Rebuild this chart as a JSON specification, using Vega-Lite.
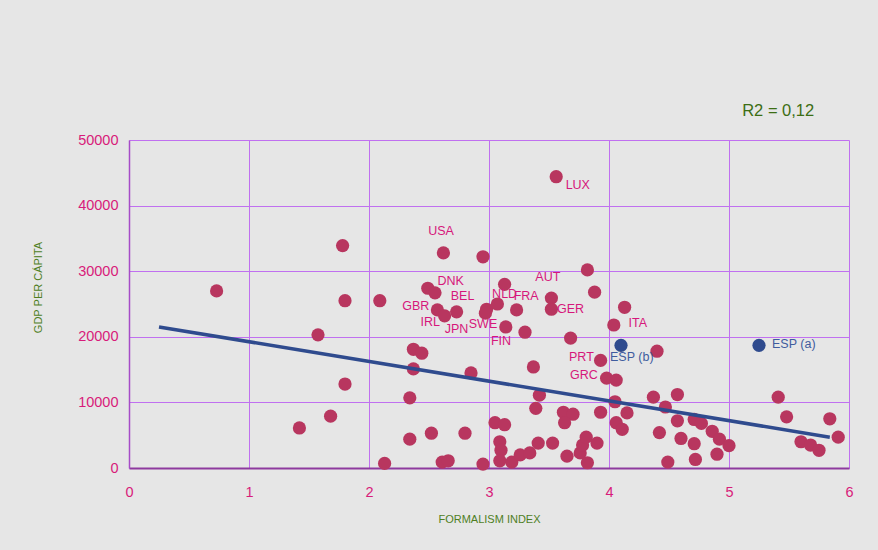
{
  "$schema": "https://vega.github.io/schema/vega-lite/v6.json",
  "width": 720,
  "height": 328,
  "autosize": {"type": "none"},
  "padding": {"left": 129, "top": 140, "right": 29, "bottom": 82},
  "background": "#E6E6E6",
  "config": {"view": {"stroke": null}, "font": "Liberation Sans"},
  "resolve": {"scale": {"color": "independent"}},
  "datasets": {
    "points": [
      {"fi": 0.73, "gdp": 27000, "grp": "other"},
      {"fi": 1.42, "gdp": 6100, "grp": "other"},
      {"fi": 1.575, "gdp": 20300, "grp": "other"},
      {"fi": 1.68, "gdp": 7900, "grp": "other"},
      {"fi": 1.78, "gdp": 33900, "grp": "other"},
      {"fi": 1.8, "gdp": 25500, "grp": "other"},
      {"fi": 1.8, "gdp": 12800, "grp": "other"},
      {"fi": 2.09, "gdp": 25500, "grp": "other"},
      {"fi": 2.13, "gdp": 700, "grp": "other"},
      {"fi": 2.34, "gdp": 10700, "grp": "other"},
      {"fi": 2.34, "gdp": 4400, "grp": "other"},
      {"fi": 2.37, "gdp": 18100, "grp": "other"},
      {"fi": 2.44, "gdp": 17500, "grp": "other"},
      {"fi": 2.37, "gdp": 15100, "grp": "other"},
      {"fi": 2.52, "gdp": 5300, "grp": "other"},
      {"fi": 2.49, "gdp": 27400, "grp": "other"},
      {"fi": 2.55, "gdp": 26700, "grp": "other"},
      {"fi": 2.57, "gdp": 24100, "grp": "other"},
      {"fi": 2.63, "gdp": 23200, "grp": "other"},
      {"fi": 2.73, "gdp": 23800, "grp": "other"},
      {"fi": 2.61, "gdp": 900, "grp": "other"},
      {"fi": 2.66, "gdp": 1100, "grp": "other"},
      {"fi": 2.62, "gdp": 32800, "grp": "other"},
      {"fi": 2.8, "gdp": 5300, "grp": "other"},
      {"fi": 2.85, "gdp": 14500, "grp": "other"},
      {"fi": 2.95, "gdp": 32200, "grp": "other"},
      {"fi": 2.95, "gdp": 600, "grp": "other"},
      {"fi": 2.98, "gdp": 24200, "grp": "other"},
      {"fi": 2.97, "gdp": 23600, "grp": "other"},
      {"fi": 3.05, "gdp": 6900, "grp": "other"},
      {"fi": 3.13, "gdp": 6600, "grp": "other"},
      {"fi": 3.09, "gdp": 4000, "grp": "other"},
      {"fi": 3.1, "gdp": 2700, "grp": "other"},
      {"fi": 3.09, "gdp": 1100, "grp": "other"},
      {"fi": 3.19, "gdp": 900, "grp": "other"},
      {"fi": 3.26, "gdp": 2000, "grp": "other"},
      {"fi": 3.34, "gdp": 2300, "grp": "other"},
      {"fi": 3.41, "gdp": 3800, "grp": "other"},
      {"fi": 3.53, "gdp": 3800, "grp": "other"},
      {"fi": 3.07, "gdp": 25000, "grp": "other"},
      {"fi": 3.13, "gdp": 28000, "grp": "other"},
      {"fi": 3.23, "gdp": 24100, "grp": "other"},
      {"fi": 3.14, "gdp": 21500, "grp": "other"},
      {"fi": 3.3, "gdp": 20700, "grp": "other"},
      {"fi": 3.37, "gdp": 15400, "grp": "other"},
      {"fi": 3.42, "gdp": 11100, "grp": "other"},
      {"fi": 3.39, "gdp": 9100, "grp": "other"},
      {"fi": 3.56, "gdp": 44400, "grp": "other"},
      {"fi": 3.52, "gdp": 25900, "grp": "other"},
      {"fi": 3.52, "gdp": 24200, "grp": "other"},
      {"fi": 3.68, "gdp": 19800, "grp": "other"},
      {"fi": 3.62, "gdp": 8500, "grp": "other"},
      {"fi": 3.7, "gdp": 8200, "grp": "other"},
      {"fi": 3.63, "gdp": 6900, "grp": "other"},
      {"fi": 3.65, "gdp": 1800, "grp": "other"},
      {"fi": 3.76, "gdp": 2300, "grp": "other"},
      {"fi": 3.78, "gdp": 3500, "grp": "other"},
      {"fi": 3.81, "gdp": 4700, "grp": "other"},
      {"fi": 3.9, "gdp": 3800, "grp": "other"},
      {"fi": 3.82, "gdp": 800, "grp": "other"},
      {"fi": 3.82, "gdp": 30200, "grp": "other"},
      {"fi": 3.88, "gdp": 26800, "grp": "other"},
      {"fi": 3.93, "gdp": 16400, "grp": "other"},
      {"fi": 3.98, "gdp": 13700, "grp": "other"},
      {"fi": 4.06, "gdp": 13400, "grp": "other"},
      {"fi": 3.93, "gdp": 8500, "grp": "other"},
      {"fi": 4.05, "gdp": 10100, "grp": "other"},
      {"fi": 4.15, "gdp": 8400, "grp": "other"},
      {"fi": 4.06, "gdp": 6900, "grp": "other"},
      {"fi": 4.11, "gdp": 5900, "grp": "other"},
      {"fi": 4.04, "gdp": 21800, "grp": "other"},
      {"fi": 4.13, "gdp": 24500, "grp": "other"},
      {"fi": 4.4, "gdp": 17800, "grp": "other"},
      {"fi": 4.37, "gdp": 10800, "grp": "other"},
      {"fi": 4.47, "gdp": 9300, "grp": "other"},
      {"fi": 4.42, "gdp": 5400, "grp": "other"},
      {"fi": 4.49, "gdp": 900, "grp": "other"},
      {"fi": 4.57, "gdp": 11200, "grp": "other"},
      {"fi": 4.57, "gdp": 7200, "grp": "other"},
      {"fi": 4.6, "gdp": 4500, "grp": "other"},
      {"fi": 4.71, "gdp": 3700, "grp": "other"},
      {"fi": 4.72, "gdp": 1300, "grp": "other"},
      {"fi": 4.71, "gdp": 7400, "grp": "other"},
      {"fi": 4.77, "gdp": 6800, "grp": "other"},
      {"fi": 4.86, "gdp": 5600, "grp": "other"},
      {"fi": 4.92, "gdp": 4400, "grp": "other"},
      {"fi": 4.9, "gdp": 2100, "grp": "other"},
      {"fi": 5.0, "gdp": 3400, "grp": "other"},
      {"fi": 5.41, "gdp": 10800, "grp": "other"},
      {"fi": 5.48, "gdp": 7800, "grp": "other"},
      {"fi": 5.6, "gdp": 4000, "grp": "other"},
      {"fi": 5.68, "gdp": 3500, "grp": "other"},
      {"fi": 5.75, "gdp": 2700, "grp": "other"},
      {"fi": 5.84, "gdp": 7500, "grp": "other"},
      {"fi": 5.91, "gdp": 4700, "grp": "other"},
      {"fi": 4.1, "gdp": 18700, "grp": "ESP"},
      {"fi": 5.25, "gdp": 18700, "grp": "ESP"}
    ],
    "trend": [
      {"fi": 0.25, "gdp": 21500},
      {"fi": 5.84, "gdp": 4700}
    ],
    "labels": [
      {"fi": 3.74, "gdp": 43100, "label": "LUX", "grp": "other"},
      {"fi": 2.6, "gdp": 36100, "label": "USA", "grp": "other"},
      {"fi": 2.68, "gdp": 28500, "label": "DNK", "grp": "other"},
      {"fi": 2.78, "gdp": 26200, "label": "BEL", "grp": "other"},
      {"fi": 2.39, "gdp": 24700, "label": "GBR", "grp": "other"},
      {"fi": 2.51, "gdp": 22300, "label": "IRL", "grp": "other"},
      {"fi": 2.73, "gdp": 21200, "label": "JPN", "grp": "other"},
      {"fi": 2.95, "gdp": 22000, "label": "SWE", "grp": "other"},
      {"fi": 3.13, "gdp": 26600, "label": "NLD", "grp": "other"},
      {"fi": 3.31, "gdp": 26200, "label": "FRA", "grp": "other"},
      {"fi": 3.1, "gdp": 19300, "label": "FIN", "grp": "other"},
      {"fi": 3.49, "gdp": 29100, "label": "AUT", "grp": "other"},
      {"fi": 3.68, "gdp": 24300, "label": "GER", "grp": "other"},
      {"fi": 4.24, "gdp": 22100, "label": "ITA", "grp": "other"},
      {"fi": 3.77, "gdp": 16900, "label": "PRT", "grp": "other"},
      {"fi": 3.79, "gdp": 14200, "label": "GRC", "grp": "other"},
      {"fi": 4.19, "gdp": 16900, "label": "ESP (b)", "grp": "ESP"},
      {"fi": 5.54, "gdp": 18900, "label": "ESP (a)", "grp": "ESP"}
    ],
    "r2": [
      {"fi": 5.41, "gdp": 54400, "label": "R2 = 0,12"}
    ]
  },
  "layer": [
    {
      "data": {"name": "points"},
      "mark": {"type": "circle", "opacity": 1, "size": 175},
      "encoding": {
        "x": {
          "field": "fi", "type": "quantitative",
          "scale": {"domain": [0, 6], "nice": false},
          "axis": {
            "values": [0, 1, 2, 3, 4, 5, 6],
            "format": "d",
            "labelFlush": false,
            "title": "FORMALISM INDEX",
            "titleColor": "#4F7F1F", "titleFontSize": 11, "titleFontWeight": "normal",
            "titleY": 51, "titleBaseline": "middle",
            "labelColor": "#D81B7A", "labelFontSize": 14.5, "labelPadding": 17,
            "ticks": false,
            "grid": true, "gridColor": "#C070F0", "gridWidth": 1, "gridOpacity": 1,
            "domainColor": "#8E3A9E", "domainWidth": 2
          }
        },
        "y": {
          "field": "gdp", "type": "quantitative",
          "scale": {"domain": [0, 50000], "nice": false},
          "axis": {
            "values": [0, 5000, 10000, 15000, 20000, 25000, 30000, 35000, 40000, 45000, 50000],
            "format": "d",
            "labelFlush": false,
            "title": "GDP PER CÁPITA",
            "titleColor": "#4F7F1F", "titleFontSize": 11, "titleFontWeight": "normal",
            "titleX": -91, "titleY": 147, "titleAlign": "center", "titleBaseline": "middle",
            "labelColor": "#D81B7A", "labelFontSize": 14.5, "labelPadding": 11,
            "ticks": false,
            "grid": true, "gridColor": "#C070F0", "gridWidth": 1, "gridOpacity": 1,
            "domainColor": "#A64CC8", "domainWidth": 1.5
          }
        },
        "color": {
          "field": "grp", "type": "nominal",
          "scale": {"domain": ["other", "ESP"], "range": ["#B8365F", "#2F4B8E"]},
          "legend": null
        },
        "order": {"field": "grp", "sort": "descending"}
      }
    },
    {
      "data": {"name": "trend"},
      "mark": {"type": "line", "color": "#2F4B8E", "strokeWidth": 3.5},
      "encoding": {
        "x": {"field": "fi", "type": "quantitative"},
        "y": {"field": "gdp", "type": "quantitative"}
      }
    },
    {
      "data": {"name": "labels"},
      "mark": {"type": "text", "fontSize": 12.5, "align": "center", "baseline": "middle"},
      "encoding": {
        "x": {"field": "fi", "type": "quantitative"},
        "y": {"field": "gdp", "type": "quantitative"},
        "text": {"field": "label"},
        "color": {
          "field": "grp", "type": "nominal",
          "scale": {"domain": ["other", "ESP"], "range": ["#D6177B", "#3F5C9E"]},
          "legend": null
        }
      }
    },
    {
      "data": {"name": "r2"},
      "mark": {"type": "text", "fontSize": 16.5, "align": "center", "baseline": "middle", "color": "#3C6E14"},
      "encoding": {
        "x": {"field": "fi", "type": "quantitative"},
        "y": {"field": "gdp", "type": "quantitative"},
        "text": {"field": "label"}
      }
    }
  ]
}
